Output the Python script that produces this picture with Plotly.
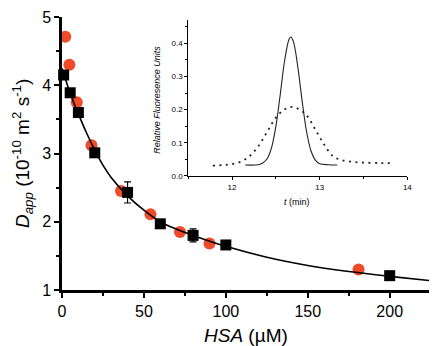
import plotly.graph_objects as go

# ---- main panel data ----
hsa_red = [2, 4.5, 9, 18, 36, 54, 72, 90, 181]
d_red = [4.71, 4.30, 3.75, 3.12, 2.45, 2.11, 1.85, 1.68, 1.30]

hsa_black = [1, 5, 10, 20, 40, 60, 80, 100, 200]
d_black = [4.15, 3.89, 3.60, 3.01, 2.43, 1.97, 1.80, 1.66, 1.21]
d_black_err = [0.04, 0.04, 0.05, 0.04, 0.155, 0.04, 0.095, 0.04, 0.03]

fit_x = [0, 2, 5, 10, 15, 20, 25, 30, 40, 50, 60, 70, 80, 100, 125, 150, 175, 200, 224]
fit_y = [4.25, 4.10, 3.88, 3.58, 3.30, 3.05, 2.83, 2.65, 2.38, 2.17, 2.00, 1.89, 1.80, 1.64, 1.48, 1.36, 1.27, 1.20, 1.14]

x_ticks = [0, 50, 100, 150, 200]
y_ticks = [1, 2, 3, 4, 5]

# ---- inset data ----
t_solid = [12.15, 12.30, 12.35, 12.40, 12.45, 12.50, 12.55, 12.60, 12.65, 12.67, 12.70,
           12.75, 12.80, 12.85, 12.90, 12.95, 13.00, 13.10, 13.20]
f_solid = [0.033, 0.034, 0.039, 0.052, 0.085, 0.150, 0.246, 0.348, 0.412, 0.419, 0.405,
           0.329, 0.225, 0.134, 0.076, 0.048, 0.037, 0.034, 0.033]

t_dot = [11.78, 11.90, 12.00, 12.10, 12.20, 12.30, 12.40, 12.50, 12.60, 12.68, 12.75,
         12.85, 12.95, 13.05, 13.15, 13.25, 13.40, 13.55, 13.70, 13.80]
f_dot = [0.031, 0.033, 0.036, 0.043, 0.060, 0.090, 0.133, 0.176, 0.201, 0.208, 0.203,
         0.183, 0.140, 0.095, 0.060, 0.048, 0.042, 0.040, 0.039, 0.039]

inset_x_ticks = [12, 13, 14]
inset_y_ticks = [0.0, 0.1, 0.2, 0.3, 0.4]

FONT = "Liberation Sans, Arial, sans-serif"

fig = go.Figure()

fig.add_trace(go.Scatter(
    x=hsa_red, y=d_red, mode="markers",
    marker=dict(symbol="circle", size=12, color="#EF4B2A", line=dict(width=0)),
    cliponaxis=False, xaxis="x", yaxis="y", showlegend=False))

fig.add_trace(go.Scatter(
    x=fit_x, y=fit_y, mode="lines", line=dict(color="black", width=1.6, shape="spline"),
    xaxis="x", yaxis="y", showlegend=False))

fig.add_trace(go.Scatter(
    x=hsa_black, y=d_black, mode="markers",
    marker=dict(symbol="square", size=11, color="black", line=dict(width=0)),
    error_y=dict(type="data", array=d_black_err, visible=True, color="black", thickness=1.2, width=3.5),
    cliponaxis=False, xaxis="x", yaxis="y", showlegend=False))

fig.add_trace(go.Scatter(
    x=t_dot, y=f_dot, mode="lines", line=dict(color="#222", width=1.8, dash="2px,4.5px", shape="spline"),
    xaxis="x2", yaxis="y2", showlegend=False))

fig.add_trace(go.Scatter(
    x=t_solid, y=f_solid, mode="lines", line=dict(color="#222", width=1.1, shape="spline"),
    xaxis="x2", yaxis="y2", showlegend=False))

fig.update_layout(
    width=434, height=346,
    margin=dict(l=62, r=0, t=17, b=56),
    paper_bgcolor="white", plot_bgcolor="white",
    font=dict(family=FONT, color="black"),
    xaxis=dict(
        domain=[0, 1], range=[0, 224], anchor="y",
        tickvals=x_ticks, ticktext=[str(v) for v in x_ticks],
        ticks="outside", ticklen=5, tickwidth=1.5, tickcolor="black",
        minor=dict(dtick=25, tick0=0, ticks="outside", ticklen=3, tickwidth=1.5, tickcolor="black"),
        showline=True, linewidth=2.5, linecolor="black", showgrid=False, zeroline=False,
        tickfont=dict(size=16)),
    yaxis=dict(
        domain=[0, 1], range=[1, 5], anchor="x",
        tickvals=y_ticks, ticktext=[str(v) for v in y_ticks],
        ticks="outside", ticklen=5, tickwidth=1.5, tickcolor="black",
        minor=dict(dtick=0.5, tick0=1, ticks="outside", ticklen=3, tickwidth=1.5, tickcolor="black"),
        showline=True, linewidth=2.5, linecolor="black", showgrid=False, zeroline=False,
        tickfont=dict(size=16)),
    xaxis2=dict(
        domain=[0.344, 0.941], range=[11.5, 14], anchor="y2",
        tickvals=inset_x_ticks, ticktext=[str(v) for v in inset_x_ticks],
        ticks="outside", ticklen=3, tickwidth=1, tickcolor="black",
        minor=dict(dtick=0.5, tick0=12, ticks="outside", ticklen=2, tickwidth=1, tickcolor="black"),
        showline=True, linewidth=1, linecolor="black", showgrid=False, zeroline=False,
        tickfont=dict(size=8)),
    yaxis2=dict(
        domain=[0.4176, 0.989], range=[0, 0.47], anchor="x2",
        tickvals=inset_y_ticks, ticktext=["%.1f" % v for v in inset_y_ticks],
        ticks="outside", ticklen=3, tickwidth=1, tickcolor="black",
        minor=dict(dtick=0.05, tick0=0, ticks="outside", ticklen=2, tickwidth=1, tickcolor="black"),
        showline=True, linewidth=1, linecolor="black", showgrid=False, zeroline=False,
        tickfont=dict(size=8)),
    annotations=[
        dict(text="<i>D<sub>app</sub></i> (10<sup>-10</sup> m<sup>2</sup> s<sup>-1</sup>)",
             xref="paper", yref="paper", x=-0.1075, y=0.50, textangle=-90,
             showarrow=False, font=dict(size=19), xanchor="center", yanchor="middle"),
        dict(text="<i>HSA</i> (µM)", xref="paper", yref="paper", x=0.5, y=-0.168,
             showarrow=False, font=dict(size=19), xanchor="center", yanchor="middle"),
        dict(text="<i>Relative Fluoresence Units</i>", xref="paper", yref="paper",
             x=0.258, y=0.696, textangle=-90, showarrow=False, font=dict(size=9),
             xanchor="center", yanchor="middle"),
        dict(text="<i>t</i> (min)", xref="paper", yref="paper", x=0.64, y=0.322,
             showarrow=False, font=dict(size=9), xanchor="center", yanchor="middle"),
    ],
)

fig.write_html("out.html", config={"displayModeBar": False},
               post_script="document.body.style.margin='0';document.body.style.padding='0';")
